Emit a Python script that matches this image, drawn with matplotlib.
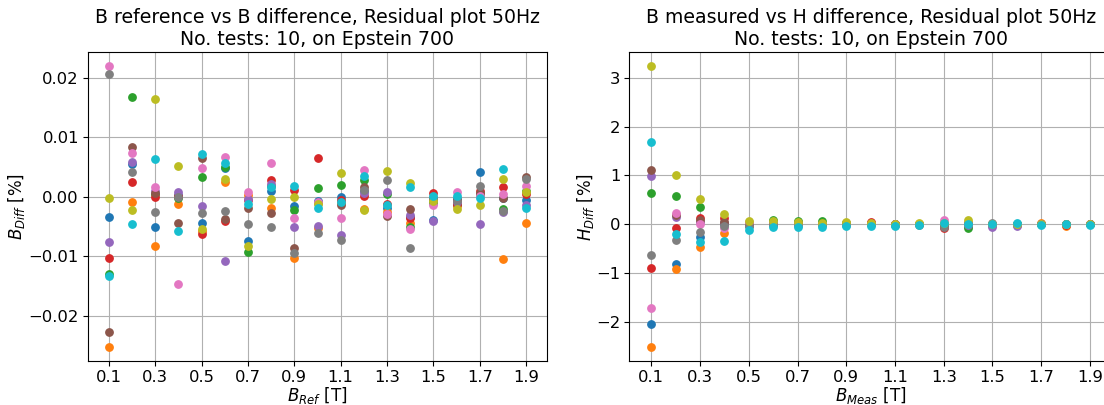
import numpy as np
import matplotlib
matplotlib.use("Agg")
import matplotlib.pyplot as plt

# Flux density steps of the Epstein frame runs [T]
b_steps = [0.1, 0.2, 0.3, 0.4, 0.5, 0.6, 0.7, 0.8, 0.9, 1.0,
           1.1, 1.2, 1.3, 1.4, 1.5, 1.6, 1.7, 1.8, 1.9]
tick_values = [0.1, 0.3, 0.5, 0.7, 0.9, 1.1, 1.3, 1.5, 1.7, 1.9]

# B difference [%] per test run
b_diff_test1 = [-0.0034, 0.0056, -0.0050, 0.0003, -0.0043, 0.0048, -0.0074, 0.0010, -0.0015, -0.0006,
                0.0000, 0.0010, -0.0018, -0.0033, -0.0038, -0.0004, 0.0042, -0.0002, -0.0005]
b_diff_test2 = [-0.0252, -0.0008, -0.0083, -0.0012, -0.0057, 0.0026, 0.0004, -0.0018, -0.0103, -0.0052,
                -0.0010, -0.0020, -0.0025, -0.0044, -0.0005, -0.0015, 0.0005, -0.0104, -0.0044]
b_diff_test3 = [-0.0130, 0.0168, 0.0005, -0.0002, 0.0034, 0.0050, -0.0092, 0.0018, -0.0022, 0.0015,
                0.0020, 0.0028, 0.0005, -0.0050, -0.0010, -0.0012, 0.0003, -0.0020, 0.0010]
b_diff_test4 = [-0.0103, 0.0025, 0.0000, 0.0002, -0.0062, -0.0041, -0.0005, 0.0029, 0.0011, 0.0066,
                -0.0005, 0.0001, -0.0011, -0.0036, 0.0006, -0.0011, 0.0010, 0.0016, 0.0005]
b_diff_test5 = [-0.0075, 0.0058, 0.0010, 0.0009, -0.0015, -0.0108, -0.0003, 0.0022, -0.0050, -0.0049,
                -0.0064, 0.0007, 0.0008, -0.0030, -0.0041, -0.0008, -0.0045, -0.0026, -0.0014]
b_diff_test6 = [-0.0227, 0.0084, 0.0007, -0.0043, 0.0066, -0.0037, -0.0019, -0.0027, -0.0085, -0.0010,
                -0.0014, 0.0016, -0.0032, -0.0020, -0.0002, -0.0005, 0.0007, -0.0002, 0.0033]
b_diff_test7 = [0.0220, 0.0074, 0.0017, -0.0146, 0.0049, 0.0067, 0.0008, 0.0057, -0.0035, -0.0009,
                -0.0035, 0.0045, -0.0028, -0.0054, -0.0013, 0.0009, 0.0002, 0.0005, 0.0018]
b_diff_test8 = [0.0206, 0.0042, -0.0025, 0.0000, -0.0027, -0.0023, -0.0045, -0.0050, -0.0094, -0.0060,
                -0.0073, 0.0011, 0.0028, -0.0086, -0.0003, -0.0006, 0.0018, -0.0024, 0.0031]
b_diff_test9 = [-0.0001, -0.0022, 0.0164, 0.0052, -0.0054, 0.0031, -0.0082, -0.0003, 0.0000, -0.0011,
                0.0041, -0.0022, 0.0043, 0.0024, -0.0007, -0.0020, -0.0013, 0.0031, 0.0008]
b_diff_test10 = [-0.0133, -0.0045, 0.0063, -0.0058, 0.0072, 0.0057, -0.0012, 0.0016, 0.0018, -0.0018,
                 -0.0008, 0.0035, -0.0014, 0.0016, 0.0002, 0.0001, -0.0002, 0.0047, -0.0018]

# H difference [%] per test run
h_diff_test1 = [-2.05, -0.81, -0.26, 0.00, -0.03, -0.02, -0.01, 0.00, -0.02, 0.00,
                -0.01, 0.00, -0.02, -0.03, -0.02, -0.01, 0.00, 0.00, 0.00]
h_diff_test2 = [-2.51, -0.92, -0.46, -0.18, 0.02, 0.01, 0.00, 0.01, 0.00, 0.02,
                0.00, 0.01, 0.00, 0.02, 0.00, 0.01, 0.02, -0.04, 0.00]
h_diff_test3 = [0.65, 0.59, 0.36, 0.02, 0.00, 0.09, 0.07, 0.07, 0.03, 0.00,
                0.01, 0.00, -0.03, -0.08, -0.02, 0.00, 0.00, 0.00, 0.00]
h_diff_test4 = [-0.90, -0.08, 0.13, 0.13, 0.00, 0.02, 0.02, 0.01, 0.01, 0.04,
                0.00, 0.00, -0.08, 0.03, 0.00, 0.00, 0.01, -0.02, 0.00]
h_diff_test5 = [0.98, 0.16, 0.05, 0.03, -0.02, 0.00, -0.02, 0.00, 0.00, 0.00,
                -0.01, 0.00, -0.01, -0.02, -0.05, -0.03, 0.00, 0.00, 0.00]
h_diff_test6 = [1.12, 0.20, 0.08, 0.05, 0.00, 0.00, 0.00, 0.00, 0.03, 0.01,
                0.00, 0.00, -0.04, 0.00, 0.00, 0.00, 0.00, 0.00, 0.00]
h_diff_test7 = [-1.71, 0.23, 0.01, -0.07, 0.05, 0.03, 0.01, 0.00, 0.00, 0.00,
                0.00, 0.01, 0.08, 0.00, 0.00, 0.00, 0.00, 0.00, 0.00]
h_diff_test8 = [-0.62, -0.33, -0.16, -0.04, -0.03, 0.00, 0.00, -0.01, 0.00, 0.00,
                0.00, -0.01, -0.06, 0.00, 0.02, 0.00, 0.00, 0.00, 0.01]
h_diff_test9 = [3.24, 1.01, 0.51, 0.22, 0.07, 0.06, 0.05, 0.03, 0.04, 0.02,
                0.00, 0.02, 0.02, 0.09, 0.00, 0.00, 0.00, 0.01, 0.00]
h_diff_test10 = [1.68, -0.20, -0.36, -0.35, -0.12, -0.06, -0.06, -0.05, -0.04, -0.03,
                 -0.03, -0.02, 0.02, 0.00, 0.00, 0.02, -0.02, 0.01, -0.01]

b_diff_runs = [b_diff_test1, b_diff_test2, b_diff_test3, b_diff_test4, b_diff_test5,
               b_diff_test6, b_diff_test7, b_diff_test8, b_diff_test9, b_diff_test10]
h_diff_runs = [h_diff_test1, h_diff_test2, h_diff_test3, h_diff_test4, h_diff_test5,
               h_diff_test6, h_diff_test7, h_diff_test8, h_diff_test9, h_diff_test10]

fig = plt.figure(figsize=(11.04, 4.05), dpi=100)
ax_b = fig.add_axes([88 / 1104, 44 / 405, 459 / 1104, 309 / 405])
ax_h = fig.add_axes([629.4 / 1104, 44 / 405, 482.5 / 1104, 309 / 405])

for run in b_diff_runs:
    ax_b.plot(b_steps, run, linestyle="none", marker="o", markersize=5.3)
for run in h_diff_runs:
    ax_h.plot(b_steps, run, linestyle="none", marker="o", markersize=5.3)

title_size = 13.6
label_size = 12
tick_size = 11.8

ax_b.set_title("B reference vs B difference, Residual plot 50Hz\nNo. tests: 10, on Epstein 700",
               fontsize=title_size, pad=5)
ax_b.set_xlabel("$B_{Ref}$ [T]", fontsize=label_size, labelpad=0)
ax_b.set_ylabel("$B_{Diff}$ [%]", fontsize=label_size, labelpad=1)

ax_h.set_title("B measured vs H difference, Residual plot 50Hz\nNo. tests: 10, on Epstein 700",
               fontsize=title_size, pad=5)
ax_h.set_xlabel("$B_{Meas}$ [T]", fontsize=label_size, labelpad=0)
ax_h.set_ylabel("$H_{Diff}$ [%]", fontsize=label_size, labelpad=0)

for ax in (ax_b, ax_h):
    ax.set_xticks(tick_values)
    ax.tick_params(labelsize=tick_size, pad=3)
    ax.grid(True)
    ax.set_axisbelow(True)

ax_b.set_yticks([-0.02, -0.01, 0.0, 0.01, 0.02])
ax_h.set_yticks([-2, -1, 0, 1, 2, 3])

fig.savefig("out.png", dpi=100)
